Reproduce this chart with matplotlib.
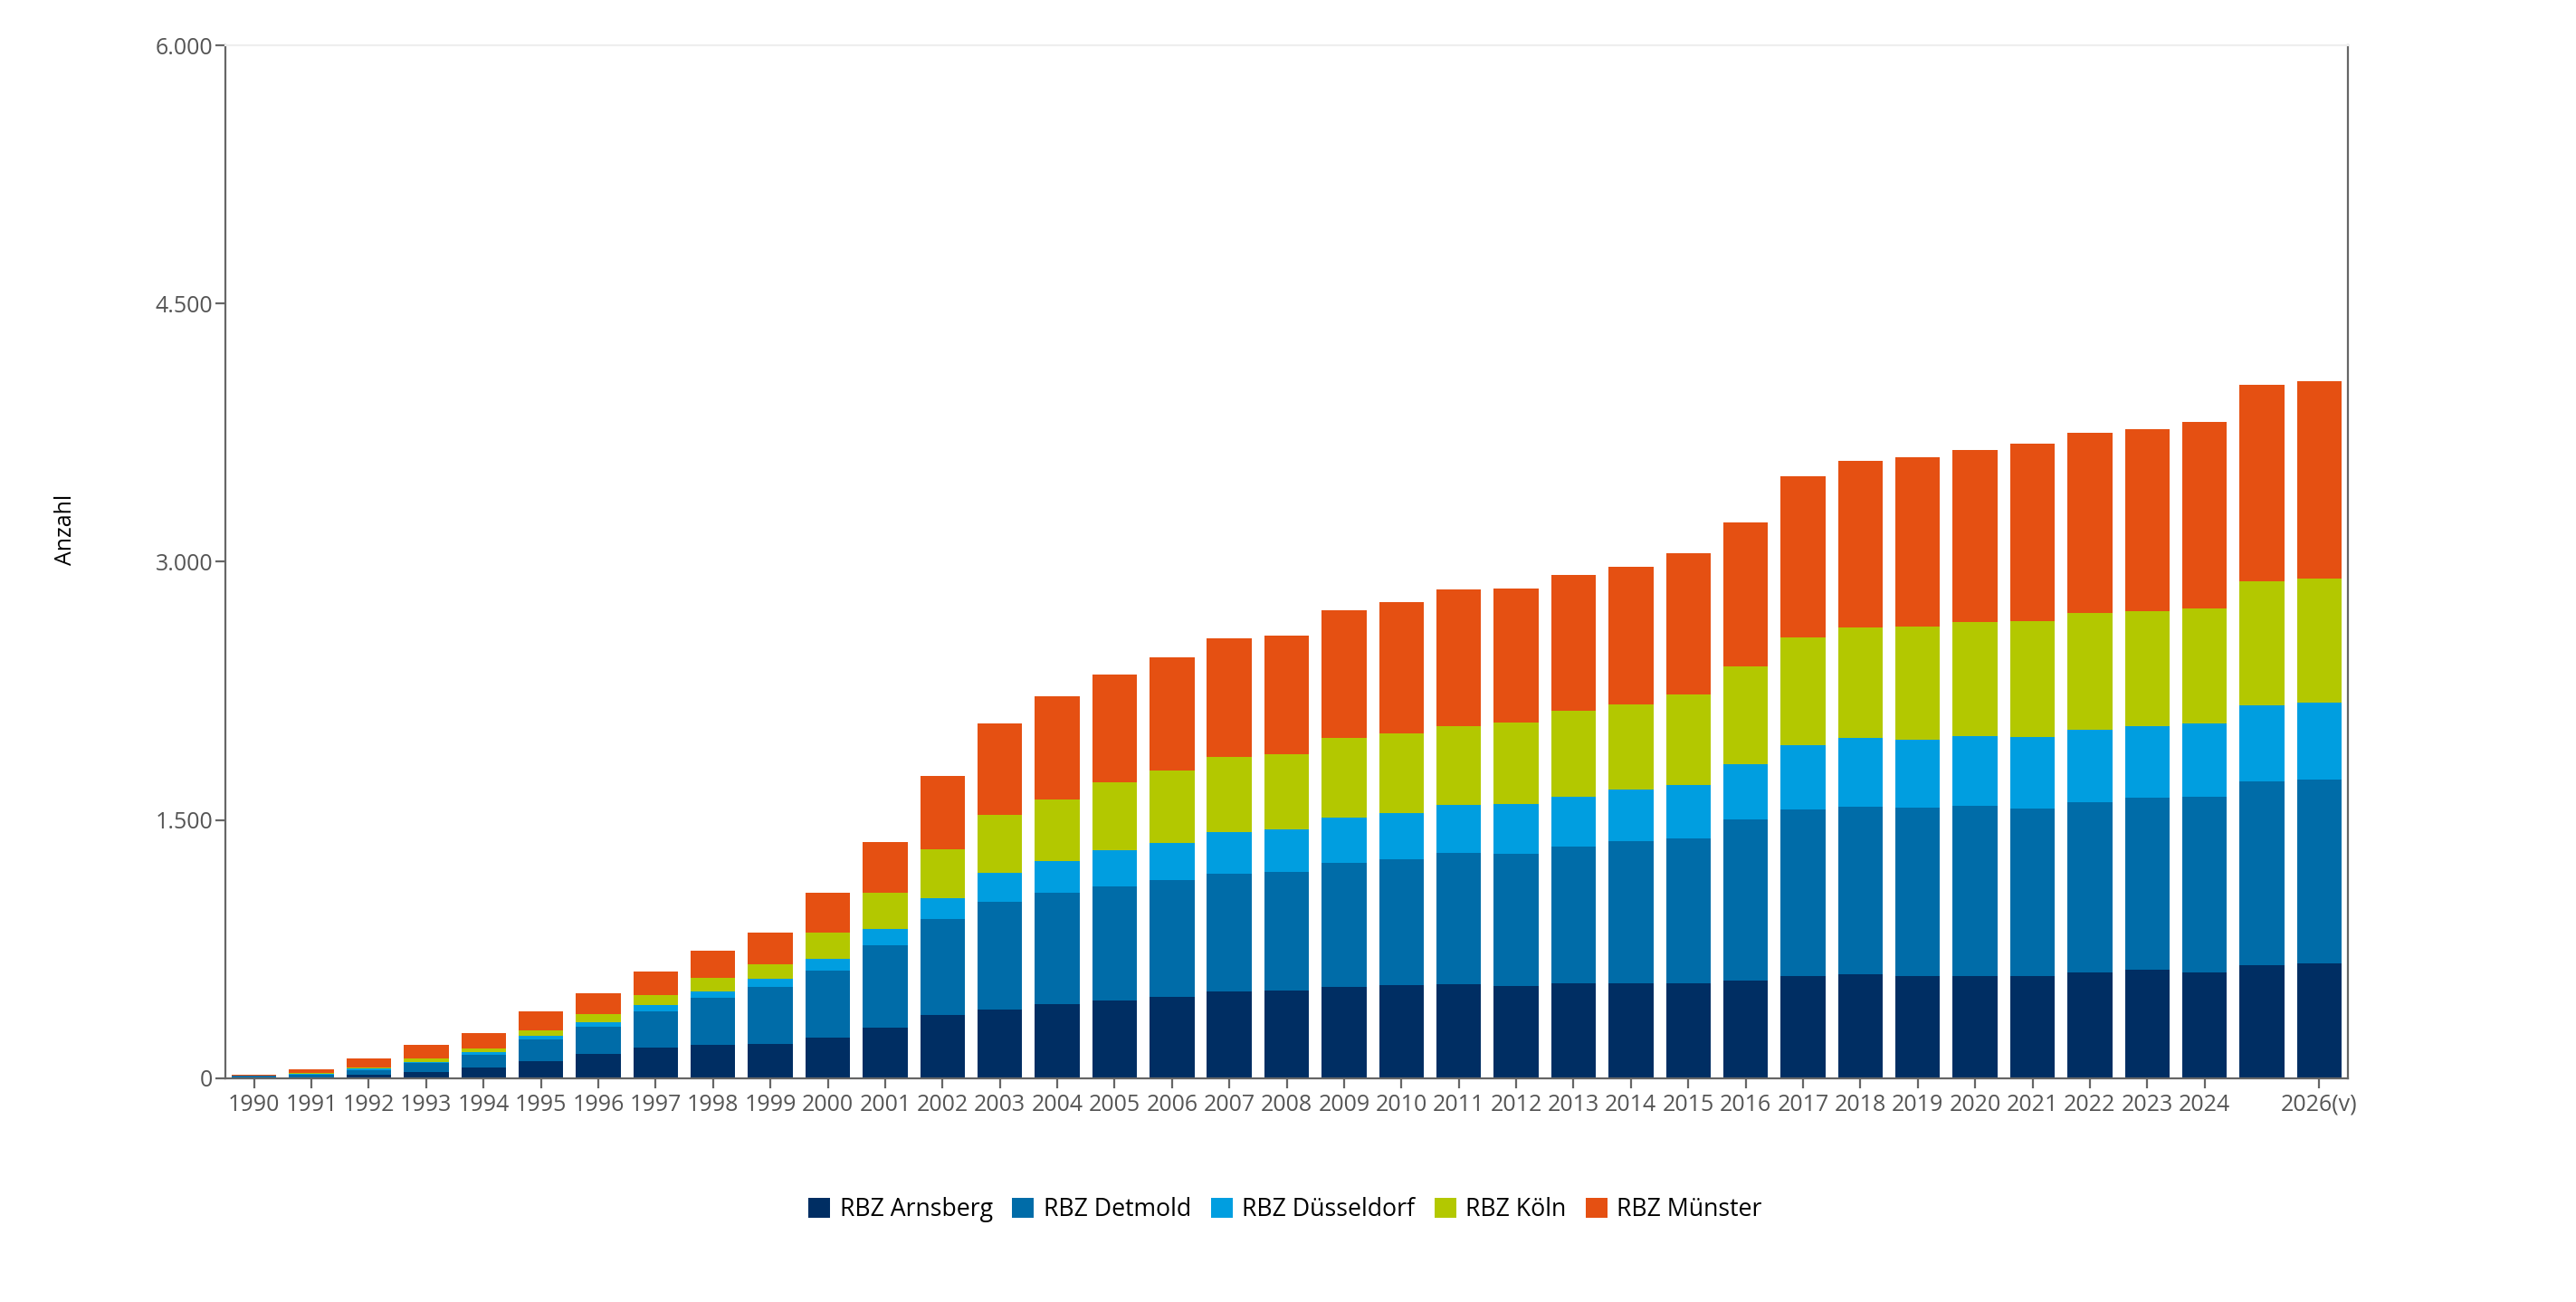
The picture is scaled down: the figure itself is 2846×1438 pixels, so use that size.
import numpy as np
import matplotlib
matplotlib.use("Agg")
import matplotlib.pyplot as plt
from matplotlib.ticker import FuncFormatter

plt.rcParams['font.family'] = ['Open Sans', 'DejaVu Sans']

years = [str(y) for y in range(1990, 2026)] + ["2026(v)"]
tick_labels = years[:-2] + ["", "2026(v)"]

series = ["RBZ Arnsberg", "RBZ Detmold", "RBZ Düsseldorf", "RBZ Köln", "RBZ Münster"]
colors = ["#002e63", "#006ca8", "#009ee0", "#b3c800", "#e55012"]

arnsberg = [6, 7, 21, 39, 61, 102, 142, 177, 193, 202, 235, 293, 368, 402, 430, 454, 472,
            502, 508, 532, 541, 545, 538, 551, 551, 551, 566, 593, 602, 593, 593, 593,
            617, 629, 617, 656, 666]
detmold = [7, 14, 26, 49, 74, 122, 156, 214, 274, 328, 393, 480, 555, 623, 647, 659, 678,
           687, 693, 717, 730, 765, 766, 795, 828, 841, 937, 968, 977, 977, 992, 974,
           989, 1001, 1016, 1068, 1070]
duesseldorf = [3, 5, 11, 8, 19, 22, 28, 35, 40, 49, 68, 92, 124, 170, 184, 212, 217, 239,
               245, 267, 269, 278, 287, 291, 300, 311, 321, 372, 396, 399, 402, 417, 418,
               415, 427, 442, 448]
koeln = [1, 6, 7, 22, 20, 31, 48, 58, 74, 81, 153, 215, 281, 333, 360, 396, 421, 439, 439,
         459, 463, 460, 478, 499, 493, 529, 569, 626, 642, 654, 663, 672, 677, 668, 669,
         720, 717]
muenster = [4, 21, 51, 75, 89, 112, 121, 135, 159, 185, 228, 292, 430, 535, 596, 626, 659,
            689, 689, 744, 765, 789, 774, 786, 799, 817, 835, 938, 968, 986, 1001, 1028,
            1047, 1059, 1082, 1143, 1146]

values = [arnsberg, detmold, duesseldorf, koeln, muenster]

fig = plt.figure(figsize=(14.23, 7.19), dpi=200)
ax = fig.add_axes([0.0875, 0.1718, 0.824, 0.7934])

x = np.arange(len(years))
bottom = np.zeros(len(years))
for name, vals, col in zip(series, values, colors):
    ax.bar(x, vals, 0.78, bottom=bottom, color=col, label=name, linewidth=0)
    bottom += np.array(vals)

ax.set_xlim(-0.5, len(years) - 0.5)
ax.set_ylim(0, 6000)
ax.set_yticks([0, 1500, 3000, 4500, 6000])
ax.yaxis.set_major_formatter(FuncFormatter(lambda v, p: f"{int(v):,}".replace(",", ".")))

tick_pos = [i for i, t in enumerate(tick_labels) if t]
ax.set_xticks(tick_pos)
ax.set_xticklabels([tick_labels[i] for i in tick_pos])

ax.tick_params(axis='both', colors='#666666', labelcolor='#555555', labelsize=9.0,
               length=4, width=0.8, direction='out')
ax.tick_params(axis='x', pad=2)
ax.tick_params(axis='y', pad=1)

for s in ['left', 'bottom', 'right']:
    ax.spines[s].set_color('#666666')
    ax.spines[s].set_linewidth(0.8)
ax.spines['top'].set_color('#eeeeee')
ax.spines['top'].set_linewidth(0.8)

fig.text(0.0255, 0.593, "Anzahl", rotation=90, ha='center', va='center', fontsize=9.0,
         color='black')

fig.legend(loc='center', bbox_to_anchor=(0.499, 0.071), ncol=5, frameon=False,
           fontsize=9.6, handlelength=0.9, handleheight=0.9, handletextpad=0.4,
           columnspacing=0.8)

fig.savefig("out.png", dpi=200)
